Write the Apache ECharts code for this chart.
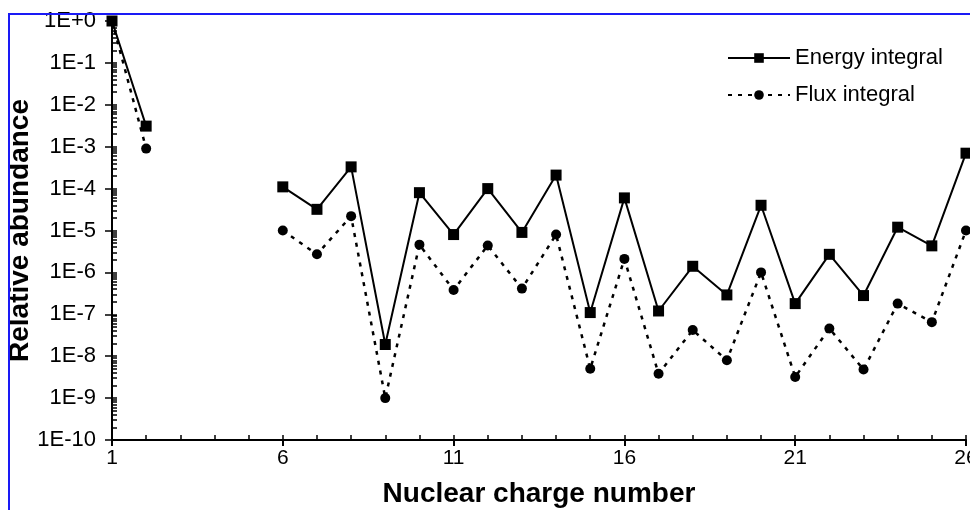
<!DOCTYPE html>
<html lang="en">
<head>
  <meta charset="UTF-8">
  <title>Relative abundance</title>
  <script src="https://cdn.jsdelivr.net/npm/echarts/dist/echarts.min.js"></script>
  <style>
    body { margin: 0; background: #fff; }
    #chart { width: 970px; height: 510px; }
    #frame { position: absolute; left: 8px; top: 13px; width: 970px; height: 510px;
             border-left: 2px solid #1a1af5; border-top: 2px solid #1a1af5; pointer-events: none; }
  </style>
</head>
<body>
<div id="chart"></div>
<div id="frame"></div>
<script>
// nuclear charge number Z, gaps at 3..5
const charges = [1,2,3,4,5,6,7,8,9,10,11,12,13,14,15,16,17,18,19,20,21,22,23,24,25,26];
const energyIntegral = [1, 3.1e-3, null, null, null, 1.1e-4, 3.2e-5, 3.3e-4, 1.9e-8, 8e-5, 8e-6, 1e-4, 9e-6,
  2.1e-4, 1.1e-7, 6e-5, 1.2e-7, 1.4e-6, 2.9e-7, 4e-5, 1.8e-7, 2.7e-6, 2.8e-7, 1.2e-5, 4.3e-6, 7e-4];
const fluxIntegral = [1, 9e-4, null, null, null, 1e-5, 2.7e-6, 2.2e-5, 1e-9, 4.6e-6, 3.8e-7, 4.4e-6, 4.1e-7,
  8e-6, 5e-9, 2.1e-6, 3.8e-9, 4.2e-8, 8e-9, 1e-6, 3.2e-9, 4.6e-8, 4.8e-9, 1.8e-7, 6.5e-8, 1e-5];
const xTicks = [1, 6, 11, 16, 21, 26];
const yTicks = [1, 1e-1, 1e-2, 1e-3, 1e-4, 1e-5, 1e-6, 1e-7, 1e-8, 1e-9, 1e-10];

// minor ticks for log axis (2..9 per decade)
let yMinor = [];
yTicks.forEach(function (t) {
  if (t >= 1) return;
  for (let k = 2; k <= 9; k++) yMinor.push(k * t);
});
yMinor = yMinor.concat(yTicks);

function pairs(vals) {
  return charges.map(function (z, i) { return [z, vals[i] == null ? '-' : vals[i]]; });
}
function expLabel(v) {
  const e = Math.round(Math.log10(v));
  return '1E' + (e >= 0 ? '+' : '') + e;
}

const font = 'Liberation Sans';
const chart = echarts.init(document.getElementById('chart'));
chart.setOption({
  animation: false,
  grid: { left: 112, right: 4, top: 21, bottom: 70, outerBoundsMode: 'none', containLabel: false },
  legend: {
    orient: 'vertical', left: 722, top: 42, itemWidth: 62, itemHeight: 12, itemGap: 15,
    textStyle: { fontFamily: font, fontSize: 22, color: '#000' },
    data: ['Energy integral', 'Flux integral']
  },
  xAxis: [{
    type: 'value', min: 1, max: 26, position: 'bottom',
    name: 'Nuclear charge number', nameLocation: 'middle', nameGap: 40,
    nameTextStyle: { fontFamily: font, fontSize: 28, fontWeight: 'bold', color: '#000' },
    axisLine: { lineStyle: { color: '#000', width: 2 } },
    axisTick: { inside: true, length: 5, lineStyle: { color: '#000', width: 1.5 }, customValues: charges },
    axisLabel: { customValues: xTicks, fontFamily: font, fontSize: 21, color: '#000', margin: 8 },
    splitLine: { show: false }
  }, {
    type: 'value', min: 1, max: 26, position: 'bottom',
    axisLine: { show: false },
    axisTick: { length: 6, lineStyle: { color: '#000', width: 2 }, customValues: xTicks },
    axisLabel: { show: false },
    splitLine: { show: false }
  }],
  yAxis: [{
    type: 'log', logBase: 10, min: 1e-10, max: 1, position: 'left',
    name: 'Relative abundance', nameLocation: 'middle', nameGap: 78, nameMoveOverlap: false,
    nameTextStyle: { fontFamily: font, fontSize: 28, fontWeight: 'bold', color: '#000' },
    axisLine: { show: true, lineStyle: { color: '#000', width: 2 } },
    axisTick: { length: 7, lineStyle: { color: '#000', width: 1.5 }, customValues: yTicks },
    axisLabel: { customValues: yTicks, formatter: expLabel, fontFamily: font, fontSize: 22, color: '#000', margin: 16 },
    splitLine: { show: false }
  }, {
    type: 'log', logBase: 10, min: 1e-10, max: 1, position: 'left',
    axisLine: { show: false },
    axisTick: { inside: true, length: 5, lineStyle: { color: '#000', width: 1.5 }, customValues: yMinor },
    axisLabel: { show: false },
    splitLine: { show: false }
  }],
  series: [{
    name: 'Energy integral', type: 'line', xAxisIndex: 0, yAxisIndex: 0,
    data: pairs(energyIntegral), connectNulls: false,
    symbol: 'rect', symbolSize: 11,
    itemStyle: { color: '#000' },
    lineStyle: { color: '#000', width: 2 }
  }, {
    name: 'Flux integral', type: 'line', xAxisIndex: 0, yAxisIndex: 0,
    data: pairs(fluxIntegral), connectNulls: false,
    symbol: 'circle', symbolSize: 10,
    itemStyle: { color: '#000' },
    lineStyle: { color: '#000', width: 2.5, type: [4, 6] }
  }]
});
</script>
</body>
</html>
